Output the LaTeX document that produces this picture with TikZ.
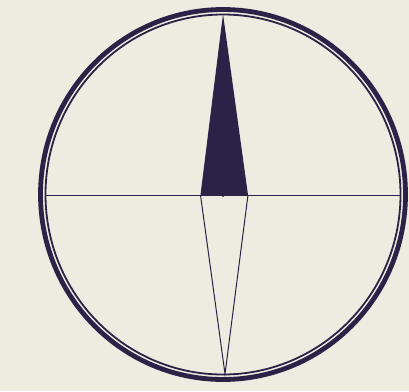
\documentclass[tikz,border=0pt]{standalone}
\definecolor{paper}{RGB}{236,236,224}
\definecolor{ink}{RGB}{44,34,72}
\begin{document}
\begin{tikzpicture}[x=1pt,y=-1pt,
  rim/.style={draw=ink,line width=4.8pt},
  innerrim/.style={draw=ink,line width=1.8pt},
  thin/.style={draw=ink,line width=1pt}]
\fill[paper] (0,0) rectangle (409,391);
\useasboundingbox (0,0) rectangle (409,391);
\coordinate (c) at (223,194.5);
\coordinate (top) at (223,14);
\coordinate (bl) at (200.5,195);
\coordinate (br) at (248,195);
\coordinate (bot) at (225,374);
\coordinate (west) at (45.5,195);
\coordinate (east) at (400.5,195);
\draw[rim] (c) ellipse [x radius=182.5, y radius=185];
\draw[innerrim] (c) ellipse [x radius=177.5, y radius=180];
\draw[thin] (west) -- (east);
\fill[ink] (top) -- (br) -- (bl) -- cycle;
\draw[thin,line join=miter] (bl) -- (bot) -- (br);
\fill[ink] (223,196) circle (1.2pt);
\end{tikzpicture}
\end{document}
